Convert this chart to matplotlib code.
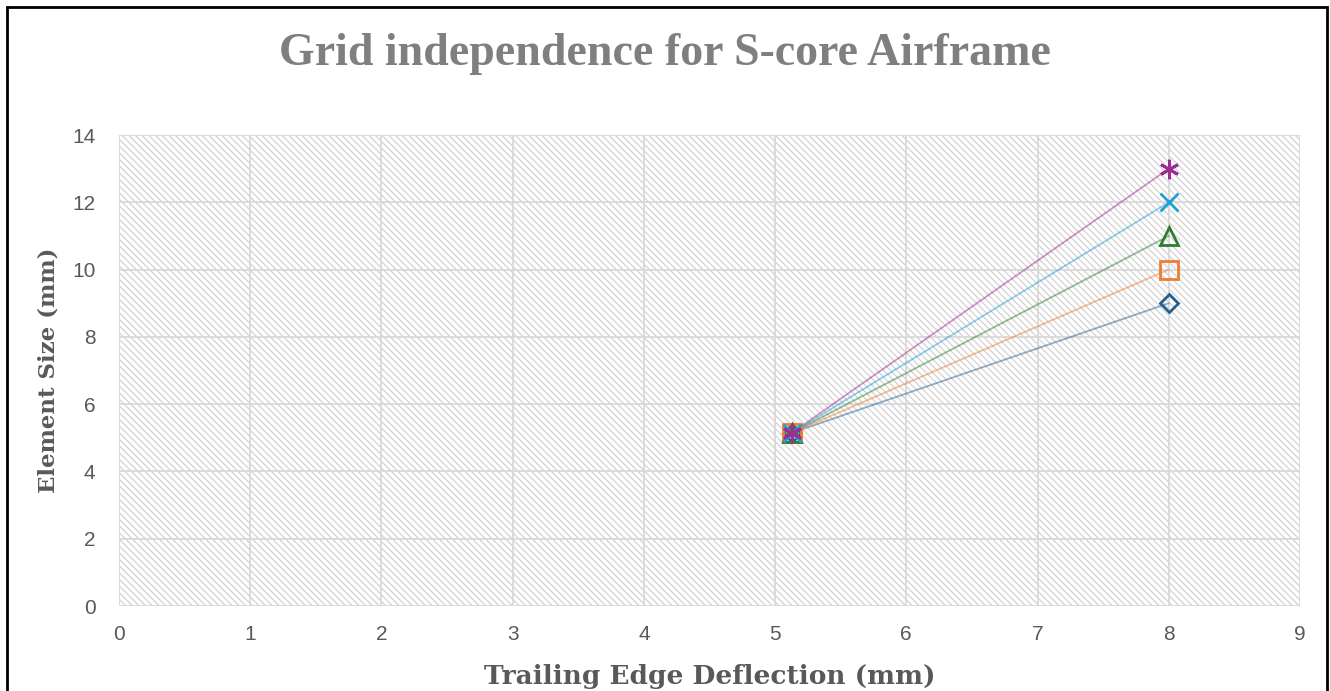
"""
Grid independence chart for the S-core airframe
"""

import matplotlib
matplotlib.use("Agg")
import matplotlib.pyplot as plt
from matplotlib.patches import Rectangle

# Data
deflection = [5.13, 8.0]
series_names = ["Mesh 1", "Mesh 2", "Mesh 3", "Mesh 4", "Mesh 5"]
element_size = [
    [5.15, 9.0],
    [5.15, 10.0],
    [5.15, 11.0],
    [5.15, 12.0],
    [5.15, 13.0],
]
x_ticks = list(range(0, 10))
y_ticks = list(range(0, 15, 2))

# Styles
colors = ["#255e91", "#ed7d31", "#2e7d32", "#1fa0d8", "#a02b93"]
markers = ["D", "s", "^", "x", (6, 2, 0)]
marker_sizes = [9.5, 12.5, 13, 13, 14]

fig = plt.figure(figsize=(13.3, 6.91), dpi=100)
ax = fig.add_axes([0.0895, 0.123, 0.8879, 0.6816])

# hatched plot area
plt.rcParams["hatch.linewidth"] = 0.9
ax.add_patch(Rectangle((0, 0), 1, 1, transform=ax.transAxes, facecolor="white",
                       edgecolor="#d2d2d2", hatch="\\\\\\\\\\", lw=0, zorder=0))

for ys, c, m, ms, name in zip(element_size, colors, markers, marker_sizes, series_names):
    ax.plot(deflection, ys, color=c, lw=1.3, alpha=0.5, zorder=3)
    ax.plot(deflection, ys, linestyle="none", marker=m, markersize=ms,
            markerfacecolor="none", markeredgecolor=c, markeredgewidth=2,
            zorder=4, label=name)

ax.set_xlim(0, 9)
ax.set_ylim(0, 14)
ax.set_xticks(x_ticks)
ax.set_yticks(y_ticks)
ax.set_axisbelow(True)
ax.grid(True, color="#d9d9d9", lw=1.3)
for s in ax.spines.values():
    s.set_visible(False)
ax.tick_params(length=0, labelsize=15, labelcolor="#595959")
ax.tick_params(axis="x", pad=14)
ax.tick_params(axis="y", pad=17)
for lab in ax.get_xticklabels() + ax.get_yticklabels():
    lab.set_fontfamily("Liberation Sans")

ax.set_xlabel("Trailing Edge Deflection (mm)", fontsize=19, fontweight="bold",
              family="DejaVu Serif", color="#595959", labelpad=14)
ax.set_ylabel("Element Size (mm)", fontsize=16.5, fontweight="bold",
              family="DejaVu Serif", color="#595959", labelpad=9)

fig.text(0.5, 0.922, "Grid independence for S-core Airframe", ha="center", va="center",
         fontsize=33, fontweight="bold", family="Liberation Serif", color="#7f7f7f")

# outer frame
fig.patches.append(Rectangle((7 / 1330, -0.02), 1320 / 1330, 1.02 - 7 / 691,
                             transform=fig.transFigure, fill=False,
                             edgecolor="black", lw=2))

fig.savefig("out.png", dpi=100)
